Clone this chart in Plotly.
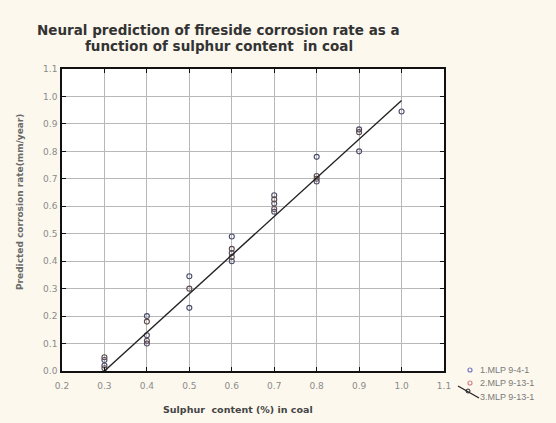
import plotly.graph_objects as go

# Sulphur content in coal (%) and predicted corrosion rate (mm/year)
mlp1_x = [0.3, 0.3, 0.4, 0.4, 0.4, 0.5, 0.5, 0.6, 0.6, 0.6, 0.7, 0.7, 0.7, 0.8, 0.8, 0.9, 0.9, 1.0]
mlp1_y = [0.04, 0.02, 0.20, 0.13, 0.10, 0.345, 0.23, 0.49, 0.43, 0.40, 0.64, 0.61, 0.58, 0.78, 0.69, 0.88, 0.80, 0.945]

mlp2_x = [0.3, 0.3, 0.4, 0.4, 0.5, 0.6, 0.6, 0.7, 0.7, 0.8, 0.8, 0.9]
mlp2_y = [0.05, 0.01, 0.18, 0.11, 0.30, 0.445, 0.415, 0.625, 0.59, 0.71, 0.70, 0.87]

fit_x = [0.3, 1.0]
fit_y = [0.0, 0.985]

x_ticks = [0.2, 0.3, 0.4, 0.5, 0.6, 0.7, 0.8, 0.9, 1.0, 1.1]
y_ticks = [0.0, 0.1, 0.2, 0.3, 0.4, 0.5, 0.6, 0.7, 0.8, 0.9, 1.0, 1.1]

series_names = ["1.MLP 9-4-1", "2.MLP 9-13-1", "3.MLP 9-13-1"]
series_key_colors = ["#7a78c8", "#d08a86", "#222222"]

W, H = 556, 423
M = dict(l=62, r=112, t=69, b=52)
PW, PH = W - M["l"] - M["r"], H - M["t"] - M["b"]
FONT = "DejaVu Sans, Liberation Sans, Arial"

fig = go.Figure()
fig.add_trace(go.Scatter(
    x=mlp1_x, y=mlp1_y, mode="markers", name=series_names[0],
    marker=dict(symbol="circle-open", size=5, color="#4a4a6a", line=dict(width=1.1)),
))
fig.add_trace(go.Scatter(
    x=mlp2_x, y=mlp2_y, mode="markers", name=series_names[1],
    marker=dict(symbol="circle-open", size=5, color="#5e4a4a", line=dict(width=1.1)),
))
fig.add_trace(go.Scatter(
    x=fit_x, y=fit_y, mode="lines", name=series_names[2],
    line=dict(color="#222222", width=1.4),
))

axis_common = dict(
    showgrid=True, gridcolor="#b8b8b8", gridwidth=1,
    showline=True, linecolor="#111111", linewidth=1.5, mirror="ticks",
    ticks="inside", ticklen=4, tickcolor="#111111",
    tickfont=dict(family=FONT, size=9, color="#8a8a8a"),
    zeroline=False,
)

fig.update_xaxes(
    range=[0.2, 1.1], tickvals=x_ticks, ticktext=[f"{v:.1f}" for v in x_ticks],
    ticklabelstandoff=5, **axis_common,
)
fig.update_yaxes(
    range=[0.0, 1.1], tickvals=y_ticks, ticktext=[f"{v:.1f}" for v in y_ticks],
    ticklabelstandoff=1, **axis_common,
)


# page pixel -> paper fraction (paper spans the plot area)
def px_x(p):
    return (p - M["l"]) / PW


def px_y(p):
    return (H - M["b"] - p) / PH


annotations = [
    dict(
        text="<b>Neural prediction of fireside corrosion rate as a</b>",
        xref="paper", yref="paper", x=px_x(35), y=px_y(30),
        xanchor="left", yanchor="middle", showarrow=False,
        font=dict(family=FONT, size=13.5, color="#333333"),
    ),
    dict(
        text="<b>function of sulphur content  in coal</b>",
        xref="paper", yref="paper", x=px_x(83), y=px_y(46),
        xanchor="left", yanchor="middle", showarrow=False,
        font=dict(family=FONT, size=13.5, color="#333333"),
    ),
    dict(
        text="<b>Sulphur  content (%) in coal</b>",
        xref="paper", yref="paper", x=px_x(238), y=px_y(409),
        xanchor="center", yanchor="middle", showarrow=False,
        font=dict(family=FONT, size=9.5, color="#444444"),
    ),
    dict(
        text="<b>Predicted corrosion rate(mm/year)</b>",
        xref="paper", yref="paper", x=px_x(20), y=px_y(202),
        xanchor="center", yanchor="middle", textangle=-90, showarrow=False,
        font=dict(family=FONT, size=9, color="#6a6a6a"),
    ),
]

# Key drawn below the right side of the plot
key_rows = [370, 383, 397]
shapes = []
for i, (name, color) in enumerate(zip(series_names, series_key_colors)):
    y = key_rows[i]
    annotations.append(dict(
        text=name, xref="paper", yref="paper", x=px_x(478), y=px_y(y),
        xanchor="left", yanchor="middle", showarrow=False,
        font=dict(family="Liberation Sans, Arial", size=9, color="#7a7a7a"),
    ))
    if i < 2:
        shapes.append(dict(
            type="circle", xref="paper", yref="paper",
            x0=px_x(468), x1=px_x(472), y0=px_y(y + 2), y1=px_y(y - 2),
            line=dict(color=color, width=1.2), fillcolor="rgba(0,0,0,0)",
        ))
    else:
        shapes.append(dict(
            type="line", xref="paper", yref="paper",
            x0=px_x(458), y0=px_y(386), x1=px_x(479), y1=px_y(398),
            line=dict(color=color, width=1.3),
        ))
        shapes.append(dict(
            type="circle", xref="paper", yref="paper",
            x0=px_x(466), x1=px_x(470), y0=px_y(393), y1=px_y(389),
            line=dict(color=color, width=1), fillcolor="rgba(0,0,0,0)",
        ))

fig.update_layout(
    width=W, height=H,
    margin=dict(**M, autoexpand=False),
    paper_bgcolor="#fcf8ee", plot_bgcolor="#ffffff",
    showlegend=False,
    annotations=annotations,
    shapes=shapes,
)

fig.write_html("out.html")
